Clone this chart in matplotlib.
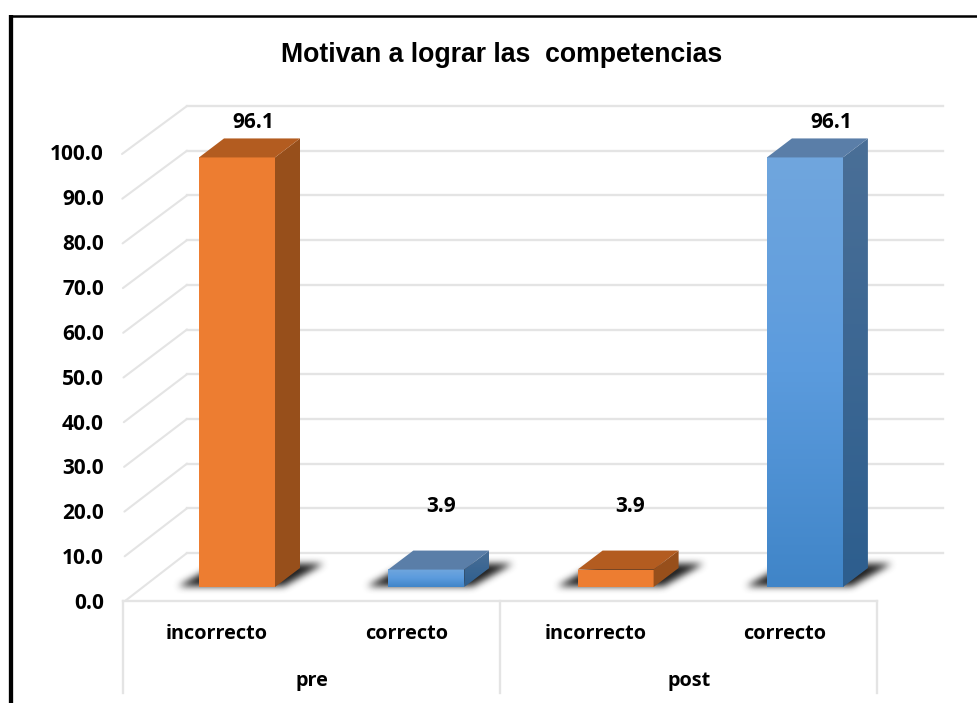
import numpy as np
import matplotlib
matplotlib.use("Agg")
import matplotlib.pyplot as plt
from matplotlib.patches import Polygon
from matplotlib.path import Path
from matplotlib.colors import LinearSegmentedColormap

W, H = 978, 703
groups = ["pre", "post"]
categories = ["incorrecto", "correcto", "incorrecto", "correcto"]
values = [96.1, 3.9, 3.9, 96.1]
kinds = ["orange", "blue", "orange", "blue"]
ticks = [0, 10, 20, 30, 40, 50, 60, 70, 80, 90, 100]
title = "Motivan a lograr las  competencias"
label_dx = [16, 15, 15, 26]
label_dy = [35, 63, 63, 35]

PX_CAT = 189.3
PX_UNIT = 4.47
X0, Y0 = 237.0, 587.0
FONT = "Open Sans"

fig = plt.figure(figsize=(W / 100, H / 100), dpi=100, facecolor="white")
ax = fig.add_axes([0, 0, 1, 1])
ax.axis("off")


def dx(px):
    return px / PX_CAT


def dy(px):
    return px / PX_UNIT


def px_x(px):
    return dx(px - X0)


def px_y(px):
    return dy(Y0 - px)


BAR_W = dx(76)
DEPTH_X, DEPTH_Y = dx(25), dy(19)
GRID = "#e4e4e4"
FLOOR = dy(-14)

front_x, back_x, end_x = px_x(122), px_x(187), px_x(943)
back_base = px_y(553)
for t in ticks:
    yb = t + back_base
    ax.plot([front_x + dx(3) * (1 - t / 100), back_x], [t + FLOOR, yb],
            color=GRID, lw=1.5, zorder=1, solid_capstyle="round")
    ax.plot([back_x, end_x], [yb, yb], color=GRID, lw=1.7, zorder=1)
    ax.text(px_x(104), t + FLOOR - dy(1 + 1.5 * (1 - t / 100)), f"{t:.1f}", ha="right", va="center",
            fontsize=15, fontweight="bold", family=FONT, color="black", zorder=6)

left_t, right_t, mid_t = px_x(123.5), px_x(877), px_x(500)
bottom_t = px_y(693)
ax.plot([left_t, right_t], [FLOOR, FLOOR], color=GRID, lw=1.7, zorder=1)
for xv in (left_t, mid_t, right_t):
    ax.plot([xv, xv], [FLOOR, bottom_t], color=GRID, lw=1.7, zorder=1)

blue_cm = LinearSegmentedColormap.from_list("b", ["#70a6de", "#5b9bdd", "#4085c8"])
blue_side = LinearSegmentedColormap.from_list("bs", ["#4a6f97", "#2d5e8e"])


def box_blur(a, r):
    kernel = np.ones(2 * r + 1) / (2 * r + 1)
    a = np.apply_along_axis(lambda m: np.convolve(m, kernel, mode="same"), 0, a)
    return np.apply_along_axis(lambda m: np.convolve(m, kernel, mode="same"), 1, a)


def shadow(x):
    # soft shadow cast on the floor: a blurred parallelogram in pixel units around the bar
    u = np.arange(-50, 150)
    w = np.arange(-14, 42)
    uu, ww = np.meshgrid(u, w)
    shape = Path([(-22, 0), (84, 0), (124, 23), (18, 23)])
    mask = shape.contains_points(np.c_[uu.ravel(), ww.ravel()]).reshape(uu.shape).astype(float)
    for _ in range(3):
        mask = box_blur(mask, 3)
    rgba = np.zeros(mask.shape + (4,))
    rgba[..., :3] = 0.16
    rgba[..., 3] = np.clip(mask * 1.05, 0, 1)
    left = x - BAR_W / 2
    ax.imshow(rgba, extent=[left + dx(u[0]), left + dx(u[-1]), dy(w[0]), dy(w[-1])],
              origin="lower", aspect="auto", zorder=2, interpolation="bilinear")


def gradient(xa, xb, y_low, y_high, cmap, clip=None):
    im = ax.imshow(np.linspace(0, 1, 128)[:, None], extent=[xa, xb, y_low, y_high],
                   origin="upper", cmap=cmap, aspect="auto", zorder=4,
                   interpolation="bilinear")
    if clip is not None:
        im.set_clip_path(clip)


for i, (v, k) in enumerate(zip(values, kinds)):
    x = float(i)
    left, right = x - BAR_W / 2, x + BAR_W / 2
    shadow(x)
    top_pts = [(left, v), (right, v), (right + DEPTH_X, v + DEPTH_Y), (left + DEPTH_X, v + DEPTH_Y)]
    side_pts = [(right, 0), (right + DEPTH_X, DEPTH_Y), (right + DEPTH_X, v + DEPTH_Y), (right, v)]
    if k == "orange":
        ax.add_patch(Polygon([(left, 0), (right, 0), (right, v), (left, v)],
                             fc="#ed7d31", ec="none", zorder=4))
        ax.add_patch(Polygon(side_pts, fc="#974f1b", ec="none", zorder=4))
        ax.add_patch(Polygon(top_pts, fc="#b35c20", ec="none", zorder=4))
    else:
        gradient(left, right, 0, v, blue_cm)
        side = Polygon(side_pts, fc="none", ec="none", zorder=4)
        ax.add_patch(side)
        gradient(right, right + DEPTH_X, 0, v + DEPTH_Y, blue_side, clip=side)
        ax.add_patch(Polygon(top_pts, fc="#5a7ea8", ec="none", zorder=4))
    ax.text(x + dx(label_dx[i]), v + dy(label_dy[i]), f"{v:.1f}", ha="center", va="center",
            fontsize=15, fontweight="bold", family=FONT, zorder=6)
    ax.text(x + dx(-20), px_y(634), categories[i], ha="center", va="center",
            fontsize=14.3, fontweight="bold", family=FONT, zorder=6)

ax.set_xlim(-X0 / PX_CAT, (W - X0) / PX_CAT)
ax.set_ylim((Y0 - H) / PX_UNIT, Y0 / PX_UNIT)

ax.text(px_x(312), px_y(681), groups[0], ha="center", va="center", fontsize=14.3,
        fontweight="bold", family=FONT)
ax.text(px_x(689), px_y(681), groups[1], ha="center", va="center", fontsize=14.3,
        fontweight="bold", family=FONT)
ax.text(px_x(501.5), px_y(62), title, ha="center", va="baseline", fontsize=19.2,
        fontweight="bold", family="Liberation Sans")

# outer frame: thick left edge, thinner top edge, open on the right and bottom
ax.plot([px_x(11), px_x(11)], [px_y(H), px_y(15)], color="black", lw=3.1, zorder=7,
        solid_capstyle="butt")
ax.plot([px_x(9), px_x(W)], [px_y(16.2), px_y(16.2)], color="black", lw=1.8, zorder=7,
        solid_capstyle="butt")

fig.savefig("out.png", dpi=100)
